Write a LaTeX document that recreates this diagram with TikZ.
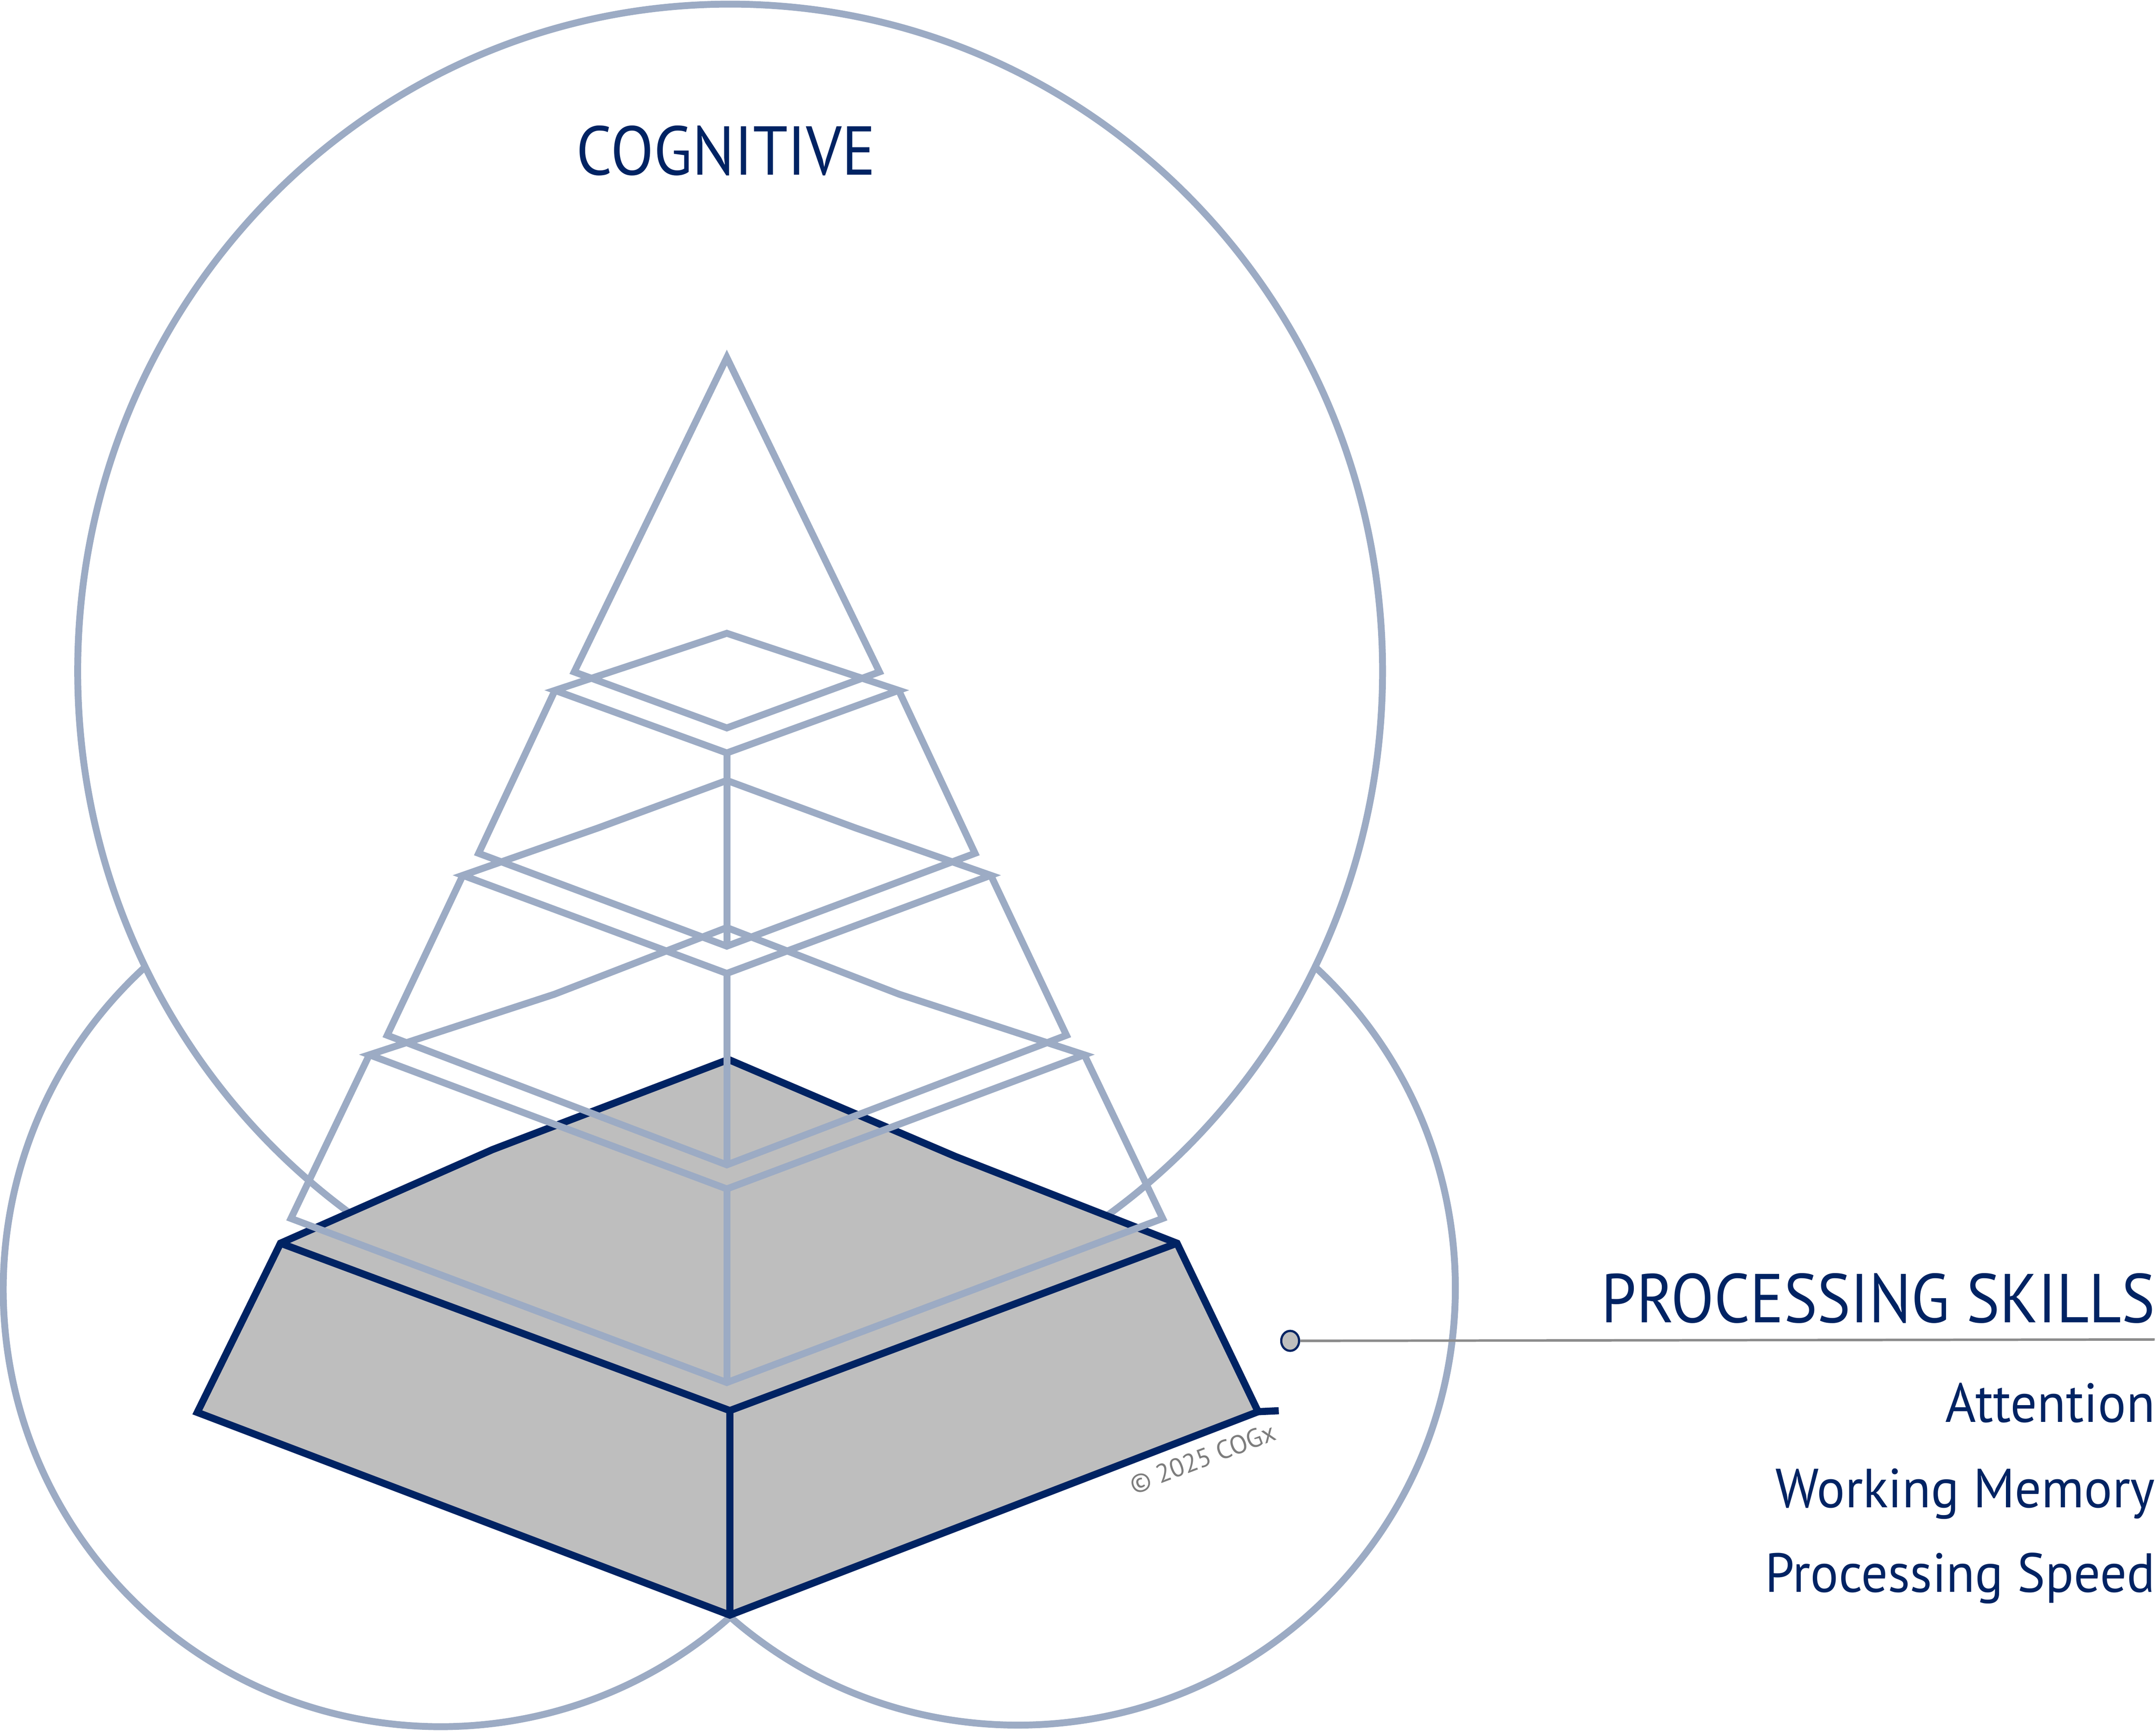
\documentclass[tikz,border=0pt]{standalone}
\usepackage{fontspec}
\setmainfont{PT Sans}
\newfontfamily\headingfont[FakeStretch=0.91]{PT Sans}
\newfontfamily\itemfont[FakeStretch=0.955]{PT Sans}
\usetikzlibrary{shapes.geometric}
\definecolor{darkline}{RGB}{0,35,99}
\definecolor{lightline}{RGB}{156,171,196}
\definecolor{basefill}{RGB}{190,190,190}
\definecolor{leadgrey}{RGB}{140,140,140}
\definecolor{notegrey}{RGB}{125,125,125}
\tikzset{
	light line/.style={
		draw=lightline,
		line width=0.5mm
	},
	dark line/.style={
		draw=darkline,
		line width=0.52mm
	},
	heading/.style={
		text=darkline,
		inner sep=0pt,
		font=\headingfont\fontsize{14.3}{17}\selectfont
	},
	skill item/.style={
		text=darkline,
		inner sep=0pt,
		anchor=base east,
		font=\itemfont\fontsize{11.4}{14}\selectfont
	},
	lead dot/.style={
		ellipse,
		draw=darkline,
		line width=0.16mm,
		fill=basefill,
		inner sep=0pt,
		minimum width=1.3mm,
		minimum height=1.45mm
	},
	lead line/.style={
		draw=leadgrey,
		line width=0.18mm
	},
	note/.style={
		text=notegrey,
		inner sep=0pt,
		font=\fontsize{5.4}{6}\selectfont
	},
}

\begin{document}
\begin{tikzpicture}[x=0.1mm, y=-0.1mm]
\useasboundingbox (0,0) rectangle (1568,1259.3);

\draw [light line] (531,488) ellipse [x radius=474.5, y radius=485];
\draw [light line] (105.1,703.5) arc [start angle=227.4, end angle=48.5, radius=318];
\draw [light line] (956.9,703.5) arc [start angle=-47.1, end angle=131.5, radius=318];

\filldraw [dark line, fill=basefill] (529.8,770.4) -- (695,841) -- (856,904) -- (915,1026.5)
	-- (530.8,1174.4) -- (143.5,1027) -- (204,904) -- (358,836) -- cycle;
\draw [dark line] (204,904) -- (530.8,1025.7) -- (856,904)
	(530.8,1025.7) -- (530.8,1174.4);
\draw [dark line] (915,1026.5) -- (930,1025.8);

\draw [light line] (417.6,488.6) -- (528.6,260) -- (639.6,488.6) -- (528.6,529.3) -- cycle;

\foreach \yl/\wt/\kx/\ky/\yb/\yf/\ybl/\wb/\ybf in {
		502/125/62.5/481.3/460.5/547.5/620.5/180.5/688,
		636.5/192/93.5/602/567.5/707.8/752.8/247/847,
		767/260/125.5/723/674.5/864.5/886/317/1005.3}
{
	\draw [light line] (528.6-\wt,\yl) -- (528.6-\kx,\ky) -- (528.6,\yb)
		-- (528.6+\kx,\ky) -- (528.6+\wt,\yl) -- (528.6,\yf) -- cycle;
	\draw [light line] (528.6-\wt,\yl) -- (528.6-\wb,\ybl)
		-- (528.6,\ybf) -- (528.6+\wb,\ybl) -- (528.6+\wt,\yl);
	\draw [light line] (528.6,\yf) -- (528.6,\ybf);
}

\node [heading, anchor=base] (cognitive) at (528,127.1) {COGNITIVE};
\node [heading, anchor=base east] (processing) at (1568,961.6) {PROCESSING SKILLS};

\foreach \l/\y [count=\i] in {Attention/1034.1, Working Memory/1096.1, Processing Speed/1157.6}
	\node [skill item] (skill-\i) at (1568,\y) {\l};

\node [lead dot] (skills-dot) at (938.3,975) {};
\coordinate (skills-end) at (1567,974);
\draw [lead line] (skills-dot) -- (skills-end);

\node [note, rotate=20.7] (copyright) at (874.7,1060.6) {© 2025 COGx};

\end{tikzpicture}
\end{document}
